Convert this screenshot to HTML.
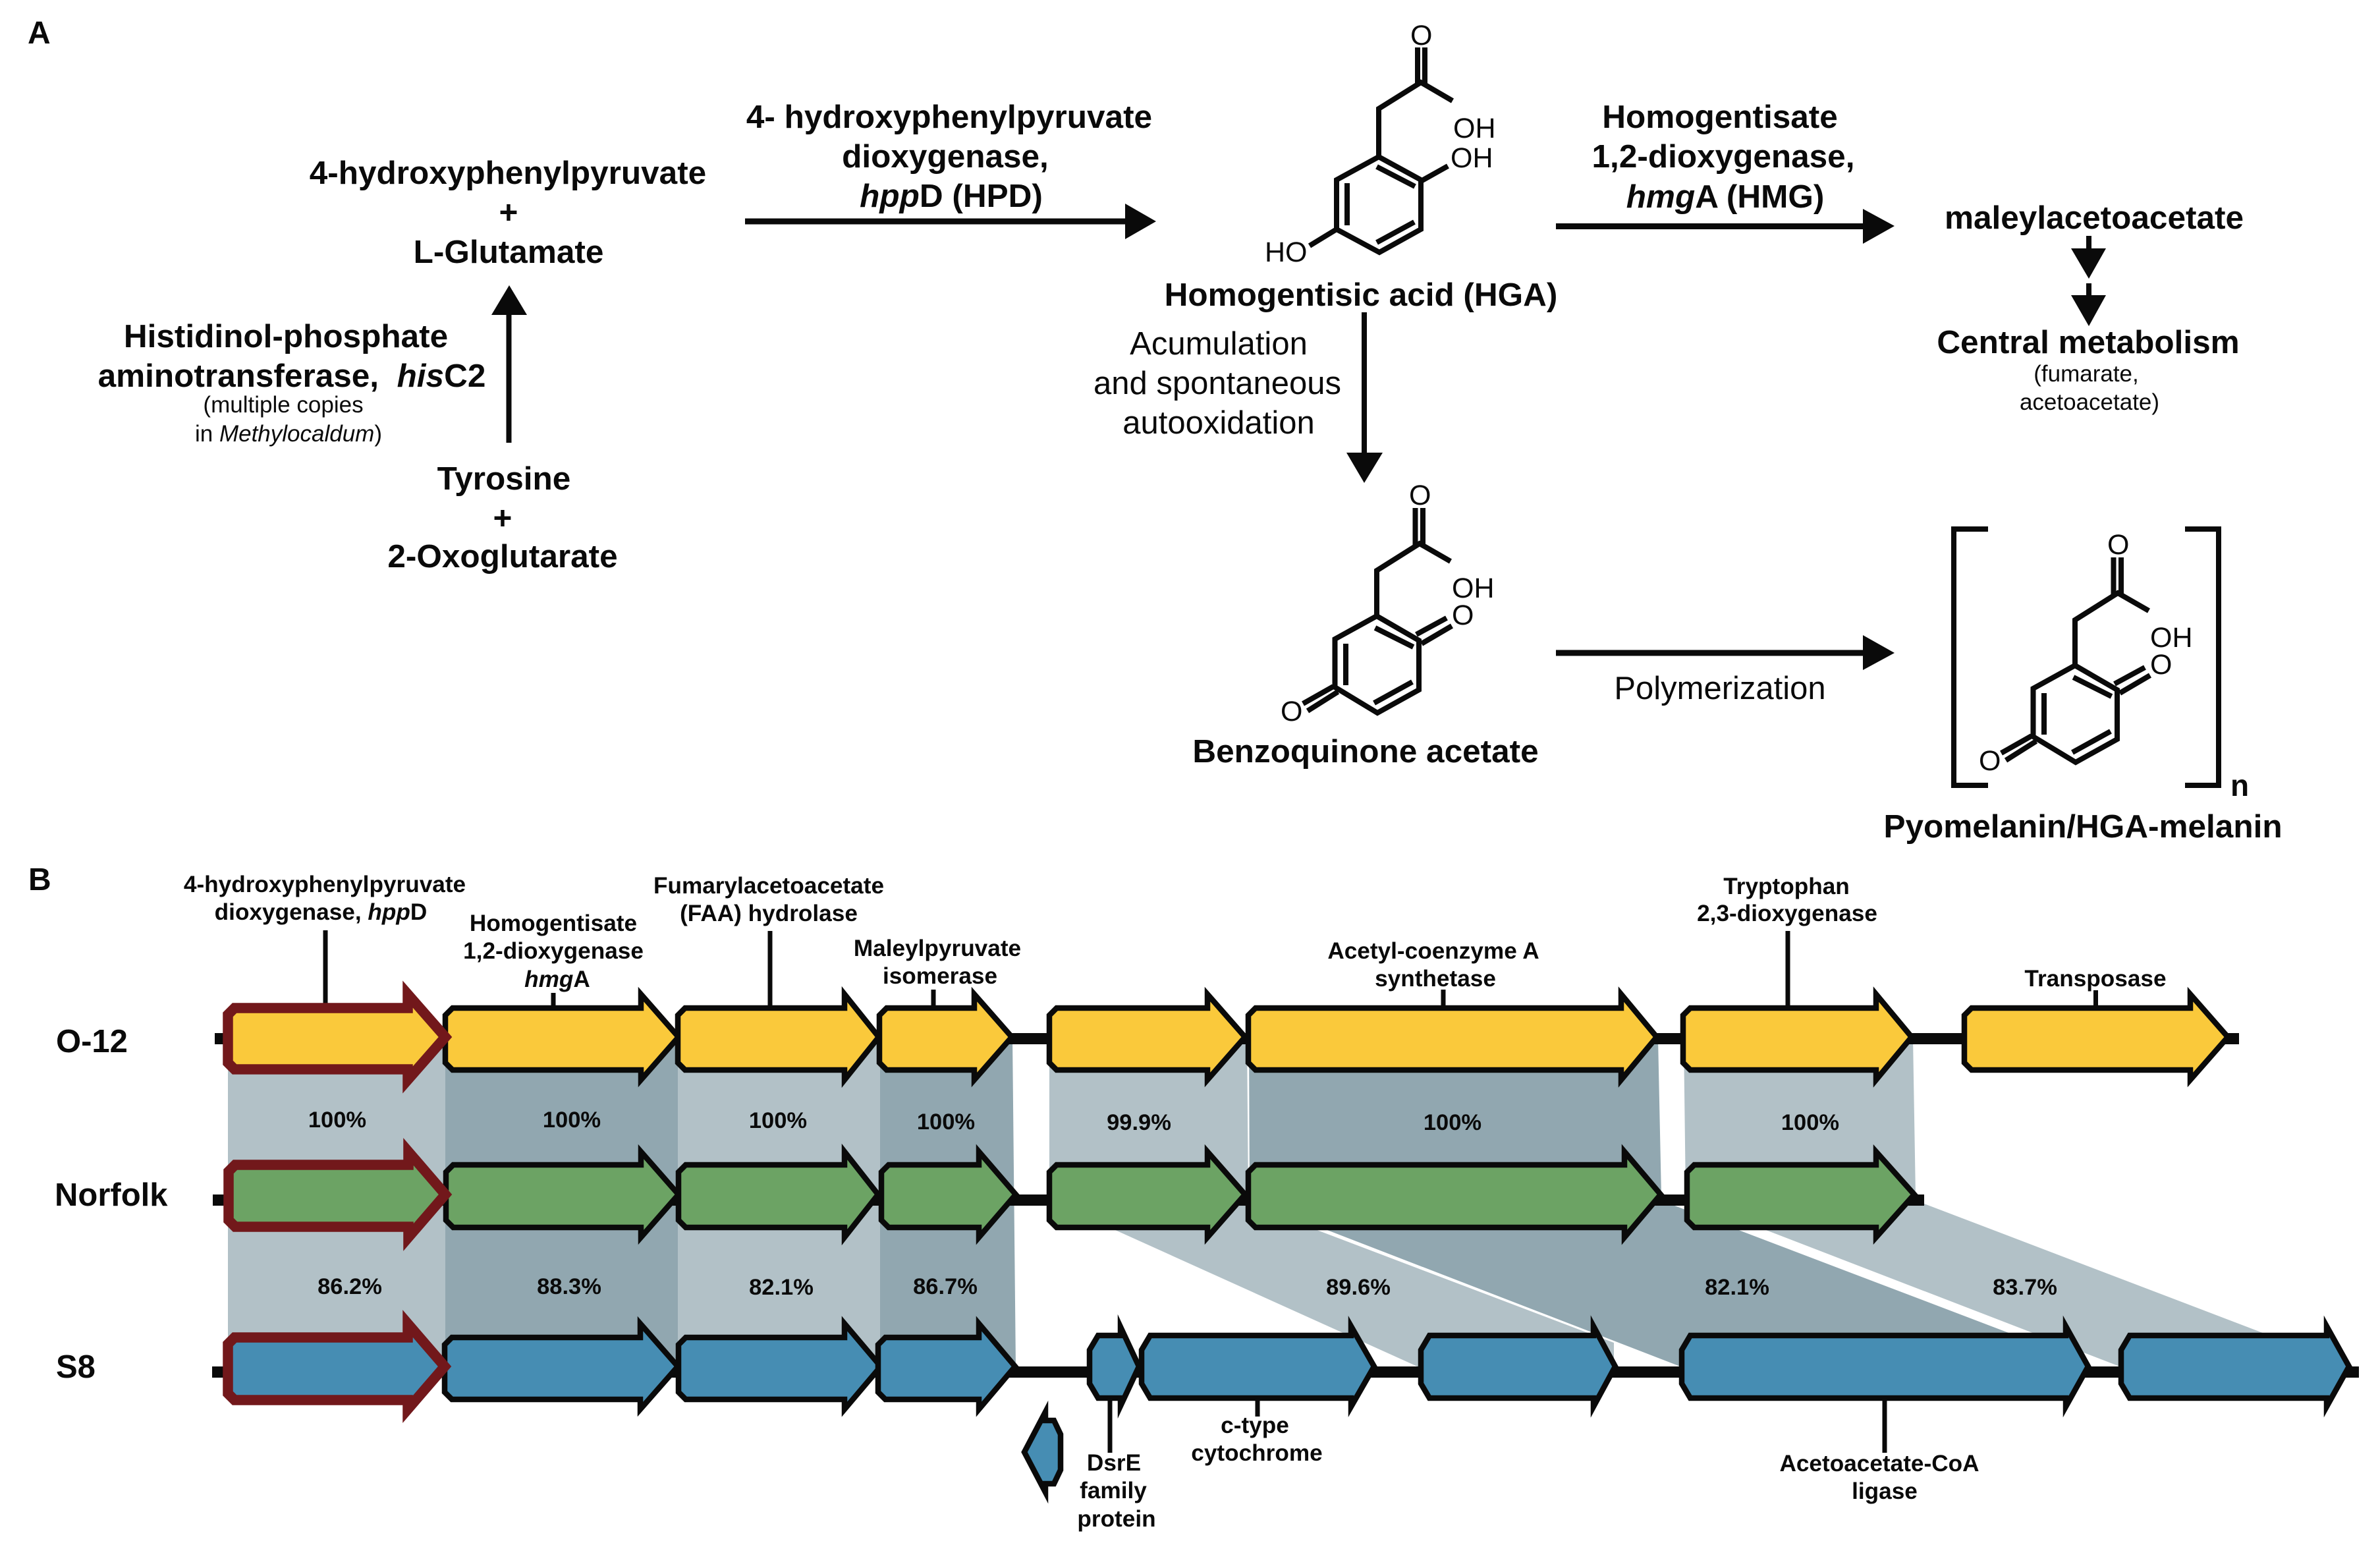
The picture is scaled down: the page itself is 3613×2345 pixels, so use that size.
<!DOCTYPE html>
<html><head><meta charset="utf-8"><title>Pyomelanin pathway and gene clusters</title>
<style>
html,body{margin:0;padding:0;background:#fff;width:3613px;height:2345px;overflow:hidden}
svg{display:block}
text{font-family:"Liberation Sans",Arial,sans-serif;fill:#0a0a0a}
.b{font-weight:700;font-size:49.5px;text-anchor:middle}
.r{font-size:49px;text-anchor:middle}
.s{font-size:35px;text-anchor:middle}
.g{font-weight:700;font-size:35.2px;text-anchor:middle}
.p{font-weight:700;font-size:34.5px;text-anchor:middle}
.m{font-size:43px}
.l{fill:#b2c1c7}.d{fill:#91a7b0}
.gy,.gg,.gb{stroke:#0a0a0a;stroke-width:8.5;stroke-miterlimit:12;stroke-linejoin:miter}
.gy{fill:#fac93b}.gg{fill:#6ca364}.gb{fill:#468db3}
.br{stroke:#72181b;stroke-width:15.5}
.bond{stroke:#0a0a0a;stroke-width:8;fill:none;stroke-linejoin:miter;stroke-miterlimit:10}
.ln{stroke:#0a0a0a;fill:none}
</style></head><body>
<svg xmlns="http://www.w3.org/2000/svg" width="3613" height="2345" viewBox="0 0 3613 2345">
<rect width="3613" height="2345" fill="#fff"/>

<!-- Panel A text -->
<text x="42" y="66" font-weight="700" font-size="48">A</text>
<text class="b" x="771" y="279">4-hydroxyphenylpyruvate</text>
<text class="b" x="772" y="339">+</text>
<text class="b" x="772" y="399">L-Glutamate</text>
<text class="b" x="1441" y="194">4- hydroxyphenylpyruvate</text>
<text class="b" x="1435" y="254">dioxygenase,</text>
<text class="b" x="1444" y="314"><tspan font-style="italic">hpp</tspan>D (HPD)</text>
<text class="b" x="434" y="527">Histidinol-phosphate</text>
<text class="b" x="443" y="587" xml:space="preserve">aminotransferase,  <tspan font-style="italic">his</tspan>C2</text>
<text class="s" x="430" y="626">(multiple copies</text>
<text class="s" x="438" y="670">in <tspan font-style="italic">Methylocaldum</tspan>)</text>
<text class="b" x="765" y="743">Tyrosine</text>
<text class="b" x="763" y="803">+</text>
<text class="b" x="763" y="861">2-Oxoglutarate</text>
<text class="b" x="2066" y="464">Homogentisic acid (HGA)</text>
<text class="r" x="1850" y="538">Acumulation</text>
<text class="r" x="1848" y="598">and spontaneous</text>
<text class="r" x="1850" y="658">autooxidation</text>
<text class="b" x="2611" y="194">Homogentisate</text>
<text class="b" x="2616" y="254">1,2-dioxygenase,</text>
<text class="b" x="2619" y="315"><tspan font-style="italic">hmg</tspan>A (HMG)</text>
<text class="b" x="3179" y="347">maleylacetoacetate</text>
<text class="b" x="3170" y="536">Central metabolism</text>
<text class="s" x="3167" y="579">(fumarate,</text>
<text class="s" x="3172" y="622">acetoacetate)</text>
<text class="b" x="2073" y="1157">Benzoquinone acetate</text>
<text class="r" x="2611" y="1061">Polymerization</text>
<text class="b" x="3162" y="1271">Pyomelanin/HGA-melanin</text>
<text x="3386" y="1208" font-weight="700" font-size="46">n</text>

<!-- Panel A arrows -->
<g fill="#0a0a0a">
<rect x="1131" y="331.5" width="580" height="9"/><polygon points="1708,309 1755,336 1708,363"/>
<rect x="768.5" y="476" width="8" height="196"/><polygon points="746,478 800,478 773,433"/>
<rect x="2067" y="474" width="8" height="215"/><polygon points="2044,687 2099,687 2071,733"/>
<rect x="2362" y="339" width="468" height="9"/><polygon points="2828,317 2876,343 2828,370"/>
<rect x="2362" y="986.5" width="468" height="9"/><polygon points="2828,964 2876,991 2828,1017"/>
<rect x="3167" y="358" width="8" height="21"/><polygon points="3144,377 3197,377 3171,423"/>
<rect x="3167" y="430" width="8" height="20"/><polygon points="3144,448 3197,448 3171,495"/>
</g>

<!-- HGA molecule -->
<g class="bond">
<path d="M2205,153 L2157,125 L2093,165 V238"/>
<path d="M2152,72 V128 M2163,72 V128"/>
<path d="M2093,238 L2157,273 L2157,348 L2094,383 L2029,348 L2029,273 Z"/>
<path d="M2045,278 V342 M2090,253 L2148,283 M2090,368 L2147,337"/>
<path d="M2157,275 L2198,252 M2029,348 L1988,373"/>
</g>
<text class="m" x="2141" y="68">O</text>
<text class="m" x="2206" y="209">OH</text>
<text class="m" x="2202" y="254">OH</text>
<text class="m" x="1920" y="397">HO</text>

<!-- Pyomelanin molecule -->
<g>
<g class="bond">
<path d="M3262,927 L3215,900 L3150,941 V1010"/>
<path d="M3208.5,846 V902 M3220,846 V902"/>
<path d="M3150,1010 L3214,1047 L3214,1122 L3151,1157 L3086.5,1118 L3086.5,1045 Z"/>
<path d="M3103,1052 V1115 M3147.5,1028 L3205.5,1057 M3146,1142 L3204,1110"/>
<path d="M3210,1038 L3256,1013 M3218,1052 L3264,1025 M3084,1117 L3038,1143 M3091,1125 L3045,1154"/>
</g>
<text class="m" x="3199" y="841">O</text>
<text class="m" x="3264" y="982">OH</text>
<text class="m" x="3264" y="1023">O</text>
<text class="m" x="3004" y="1169">O</text>
</g>
<path class="bond" d="M3018,803 H2966 V1192 H3018 M3317,803 H3368 V1192 H3317"/>

<!-- Benzoquinone molecule -->
<g transform="translate(-1060,-75)">
<g class="bond">
<path d="M3262,927 L3215,900 L3150,941 V1010"/>
<path d="M3208.5,846 V902 M3220,846 V902"/>
<path d="M3150,1010 L3214,1047 L3214,1122 L3151,1157 L3086.5,1118 L3086.5,1045 Z"/>
<path d="M3103,1052 V1115 M3147.5,1028 L3205.5,1057 M3146,1142 L3204,1110"/>
<path d="M3210,1038 L3256,1013 M3218,1052 L3264,1025 M3084,1117 L3038,1143 M3091,1125 L3045,1154"/>
</g>
<text class="m" x="3199" y="841">O</text>
<text class="m" x="3264" y="982">OH</text>
<text class="m" x="3264" y="1023">O</text>
<text class="m" x="3004" y="1169">O</text>
</g>

<!-- Panel B -->
<text x="43" y="1351" font-weight="700" font-size="48">B</text>

<!-- Ribbons -->
<rect class="l" x="346" y="1576" width="330" height="500"/>
<rect class="d" x="676" y="1576" width="353" height="500"/>
<rect class="l" x="1029" y="1576" width="307" height="500"/>
<polygon class="d" points="1336,1576 1537,1576 1542,2076 1336,2076"/>
<polygon class="l" points="1593,1576 1893,1576 1895,1815 1593,1815"/>
<polygon class="d" points="1896,1576 2517,1576 2522,1815 1897,1815"/>
<polygon class="l" points="2556,1576 2904,1576 2908,1815 2559,1815"/>
<polygon class="l" points="1600,1825 1895,1827 2002,1868 2450,2038 2450,2076 2156,2076"/>
<polygon class="d" points="1919,1830 2529,1825 3136,2056 3136,2076 2556,2076"/>
<polygon class="l" points="2585,1830 2921,1827 3532,2060 3532,2076 3223,2076"/>

<!-- Axis lines -->
<g fill="#0a0a0a">
<rect x="326" y="1568" width="3073" height="17"/>
<rect x="323" y="1813" width="2598" height="17"/>
<rect x="322" y="2074" width="3259" height="17"/>
</g>

<!-- Ticks -->
<g class="ln" stroke-width="7">
<path d="M494,1412 V1532 M840,1507 V1532 M1169,1413 V1532 M1417,1502 V1532 M2191,1502 V1532 M2714,1413 V1532 M3181.5,1503 V1532"/>
<path d="M1685,2125 V2205 M1909,2125 V2150 M2861,2125 V2205"/>
</g>

<!-- Row O-12 -->
<g class="gy">
<polygon points="687,1530 973,1530 973,1509 1030,1574 973,1639 973,1624 687,1624 676,1613 676,1541"/>
<polygon points="1040,1530 1282,1530 1282,1509 1334,1574 1282,1639 1282,1624 1040,1624 1029,1613 1029,1541"/>
<polygon points="1346,1530 1479,1530 1479,1509 1536,1574 1479,1639 1479,1624 1346,1624 1335,1613 1335,1541"/>
<polygon points="1604,1530 1833,1530 1833,1509 1890,1574 1833,1639 1833,1624 1604,1624 1593,1613 1593,1541"/>
<polygon points="1906,1530 2461,1530 2461,1509 2515,1574 2461,1639 2461,1624 1906,1624 1895,1613 1895,1541"/>
<polygon points="2566,1530 2848,1530 2848,1509 2902,1574 2848,1639 2848,1624 2566,1624 2555,1613 2555,1541"/>
<polygon points="2993,1530 3325,1530 3325,1509 3382,1574 3325,1639 3325,1624 2993,1624 2982,1613 2982,1541"/>
<polygon class="br" points="356,1530 619,1530 619,1509 676,1574 619,1639 619,1623 356,1623 346,1613 346,1540"/>
</g>

<!-- Row Norfolk -->
<g class="gg">
<polygon points="688,1768 973,1768 973,1748 1030,1813 973,1878 973,1863 688,1863 677,1852 677,1779"/>
<polygon points="1041,1768 1282,1768 1282,1748 1333,1813 1282,1878 1282,1863 1041,1863 1030,1852 1030,1779"/>
<polygon points="1349,1768 1486,1768 1486,1748 1542,1813 1486,1878 1486,1863 1349,1863 1338,1852 1338,1779"/>
<polygon points="1604,1768 1833,1768 1833,1748 1890,1813 1833,1878 1833,1863 1604,1863 1593,1852 1593,1779"/>
<polygon points="1906,1768 2466,1768 2466,1748 2521,1813 2466,1878 2466,1863 1906,1863 1895,1852 1895,1779"/>
<polygon points="2572,1768 2848,1768 2848,1748 2906,1813 2848,1878 2848,1863 2572,1863 2561,1852 2561,1779"/>
<polygon class="br" points="357,1768 620,1768 620,1748 676,1813 620,1878 620,1862 357,1862 347,1852 347,1778"/>
</g>

<!-- Row S8 -->
<g class="gb">
<polygon points="686,2030 972,2030 972,2009 1029,2074 972,2139 972,2124 686,2124 675,2113 675,2041"/>
<polygon points="1041,2030 1282,2030 1282,2009 1337,2074 1282,2139 1282,2124 1041,2124 1030,2113 1030,2041"/>
<polygon points="1344,2030 1486,2030 1486,2009 1541,2074 1486,2139 1486,2124 1344,2124 1333,2113 1333,2041"/>
<polygon points="1667,2027 1701,2027 1701,2014 1729,2074 1701,2134 1701,2122 1667,2122 1654,2100 1654,2049"/>
<polygon points="1746,2027 2051,2027 2051,2013 2086,2074 2051,2135 2051,2122 1746,2122 1733,2100 1733,2049"/>
<polygon points="2170,2027 2419,2027 2419,2013 2452,2074 2419,2135 2419,2122 2170,2122 2157,2100 2157,2049"/>
<polygon points="2566,2027 3136,2027 3136,2013 3170,2074 3136,2135 3136,2122 2566,2122 2553,2100 2553,2049"/>
<polygon points="3233,2027 3532,2027 3532,2013 3566,2074 3532,2135 3532,2122 3233,2122 3220,2100 3220,2049"/>
<polygon points="1600,2156 1587,2156 1587,2143 1555,2204 1587,2265 1587,2252 1600,2252 1610,2231 1610,2177"/>
<polygon class="br" points="356,2030 619,2030 619,2009 675,2074 619,2139 619,2125 356,2125 346,2115 346,2040"/>
</g>

<!-- Row labels -->
<text x="85" y="1597" font-weight="700" font-size="49">O-12</text>
<text x="83" y="1830" font-weight="700" font-size="49">Norfolk</text>
<text x="85" y="2091" font-weight="700" font-size="49">S8</text>

<!-- Gene labels -->
<text class="g" x="493" y="1354">4-hydroxyphenylpyruvate</text>
<text class="g" x="487" y="1396">dioxygenase, <tspan font-style="italic">hpp</tspan>D</text>
<text class="g" x="840" y="1413">Homogentisate</text>
<text class="g" x="840" y="1455">1,2-dioxygenase</text>
<text class="g" x="846" y="1498"><tspan font-style="italic">hmg</tspan>A</text>
<text class="g" x="1167" y="1356">Fumarylacetoacetate</text>
<text class="g" x="1167" y="1398">(FAA) hydrolase</text>
<text class="g" x="1423" y="1451">Maleylpyruvate</text>
<text class="g" x="1427" y="1493">isomerase</text>
<text class="g" x="2176" y="1455">Acetyl-coenzyme A</text>
<text class="g" x="2179" y="1497">synthetase</text>
<text class="g" x="2712" y="1357">Tryptophan</text>
<text class="g" x="2713" y="1398">2,3-dioxygenase</text>
<text class="g" x="3181" y="1497">Transposase</text>
<text class="g" x="1905" y="2175">c-type</text>
<text class="g" x="1908" y="2217">cytochrome</text>
<text class="g" x="1691" y="2232">DsrE</text>
<text class="g" x="1690" y="2274">family</text>
<text class="g" x="1695" y="2317">protein</text>
<text class="g" x="2853" y="2233">Acetoacetate-CoA</text>
<text class="g" x="2861" y="2275">ligase</text>

<!-- Percentages -->
<text class="p" x="512" y="1711">100%</text>
<text class="p" x="868" y="1711">100%</text>
<text class="p" x="1181" y="1712">100%</text>
<text class="p" x="1436" y="1714">100%</text>
<text class="p" x="1729" y="1715">99.9%</text>
<text class="p" x="2205" y="1715">100%</text>
<text class="p" x="2748" y="1715">100%</text>
<text class="p" x="531" y="1964">86.2%</text>
<text class="p" x="864" y="1964">88.3%</text>
<text class="p" x="1186" y="1965">82.1%</text>
<text class="p" x="1435" y="1964">86.7%</text>
<text class="p" x="2062" y="1965">89.6%</text>
<text class="p" x="2637" y="1965">82.1%</text>
<text class="p" x="3074" y="1965">83.7%</text>
</svg>
</body></html>
